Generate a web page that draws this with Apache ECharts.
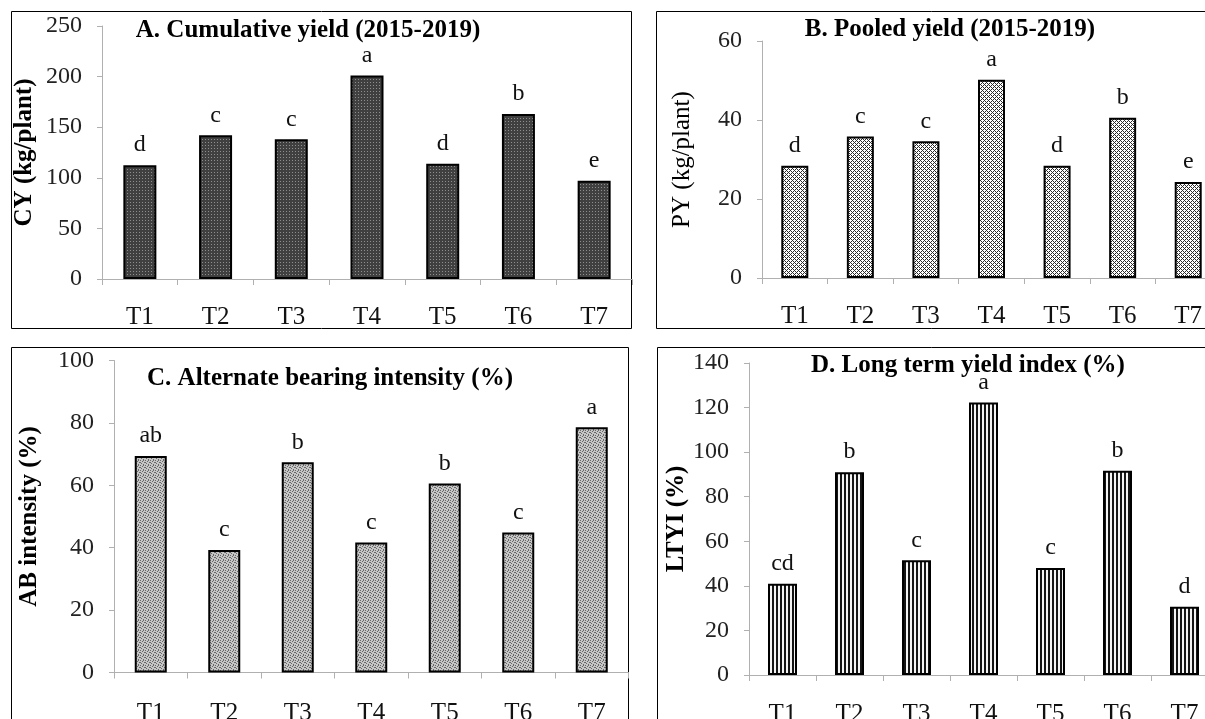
<!DOCTYPE html>
<html><head><meta charset="utf-8">
<script src="https://cdn.jsdelivr.net/npm/echarts@6/dist/echarts.min.js"></script>
<style>html,body{margin:0;padding:0;background:#fff;overflow:hidden}#c{width:1205px;height:719px}</style>
</head><body><div id="c"></div>
<script>
// ---- data ----
const categories = ['T1','T2','T3','T4','T5','T6','T7'];
const cumulativeYield = [112.5, 142, 138, 201, 114, 163, 97];
const cumulativeLetters = ['d','c','c','a','d','b','e'];
const pooledYield = [28.4, 35.8, 34.6, 50.2, 28.4, 40.6, 24.3];
const pooledLetters = ['d','c','c','a','d','b','e'];
const abIntensity = [69.4, 39.3, 67.4, 41.7, 60.6, 44.9, 78.6];
const abLetters = ['ab','c','b','c','b','c','a'];
const ltyi = [41, 91, 51.5, 122.3, 48, 91.7, 30.6];
const ltyiLetters = ['cd','b','c','a','c','b','d'];
const yTicksA = [0, 50, 100, 150, 200, 250];
const yTicksB = [0, 20, 40, 60];
const yTicksC = [0, 20, 40, 60, 80, 100];
const yTicksD = [0, 20, 40, 60, 80, 100, 120, 140];
const titles = ['A. Cumulative yield (2015-2019)', 'B. Pooled yield (2015-2019)',
                'C. Alternate bearing intensity (%)', 'D. Long term yield index (%)'];
const yNames = ['CY (kg/plant)', 'PY (kg/plant)', 'AB intensity (%)', 'LTYI (%)'];

// ---- fill patterns ----
function pat(w, h, draw) {
  const c = document.createElement('canvas'); c.width = w; c.height = h;
  const g = c.getContext('2d'); draw(g, w, h); return c;
}
const patA = pat(3, 3, (g) => { g.fillStyle = '#404040'; g.fillRect(0,0,3,3); g.fillStyle = '#8e8e8e'; g.fillRect(1,1,1,1); });
const patB = pat(4, 4, (g) => {
  g.fillStyle = '#ffffff'; g.fillRect(0,0,4,4); g.fillStyle = '#2a2a2a';
  for (let x = 0; x < 4; x++) for (let y = 0; y < 4; y++)
    if ((x + y) % 4 === 0 || (x - y + 4) % 4 === 0) g.fillRect(x, y, 1, 1);
});
const patC = pat(5, 5, (g) => {
  g.fillStyle = '#c6c6c6'; g.fillRect(0,0,5,5); g.fillStyle = '#686868';
  [[0,0],[2,1],[4,2],[1,3],[3,4],[0,2],[3,0]].forEach(p => g.fillRect(p[0], p[1], 1, 1));
});
const patD = pat(4, 1, (g) => { g.fillStyle = '#f4f4f4'; g.fillRect(0,0,4,1); g.fillStyle = '#151515'; g.fillRect(0,0,2,1); });

const serif = "'Liberation Serif', 'Times New Roman', serif";
const grids = [
  { left: 102, top: 26, width: 530, height: 253, outerBoundsMode: 'none', containLabel: false },
  { left: 762, top: 41, width: 459, height: 237, outerBoundsMode: 'none', containLabel: false },
  { left: 114, top: 360.5, width: 514.5, height: 312, outerBoundsMode: 'none', containLabel: false },
  { left: 749, top: 363, width: 469, height: 312, outerBoundsMode: 'none', containLabel: false }
];
const yTicks = [yTicksA, yTicksB, yTicksC, yTicksD];
const values = [cumulativeYield, pooledYield, abIntensity, ltyi];
const letters = [cumulativeLetters, pooledLetters, abLetters, ltyiLetters];
const fills = [patA, patB, patC, patD];
const barWidths = [33, 27, 32, 29];
const nameGaps = [65, 67, 72, 59];
const nameWeights = ['bold', 'normal', 'bold', 'bold'];
const xLabelMargins = [26, 26, 28, 27];
const titlePos = [[308, 18], [950, 17], [330, 366], [968, 353]];

const option = {
  backgroundColor: '#fff',
  animation: false,
  title: titles.map((t, i) => ({
    text: t, left: titlePos[i][0], top: titlePos[i][1], textAlign: 'center', padding: 0,
    textStyle: { fontFamily: serif, fontSize: 25, fontWeight: 'bold', color: '#000' }
  })),
  grid: grids,
  xAxis: grids.map((g, i) => ({
    type: 'category', gridIndex: i, data: categories,
    axisLine: { lineStyle: { color: '#b0b0b0', width: 1 } },
    axisTick: { show: true, length: 6, lineStyle: { color: '#b0b0b0' } },
    axisLabel: { fontFamily: serif, fontSize: 25, color: '#111', margin: xLabelMargins[i] }
  })),
  yAxis: grids.map((g, i) => {
    const t = yTicks[i];
    return {
      type: 'value', gridIndex: i, min: t[0], max: t[t.length - 1], interval: t[1] - t[0],
      name: yNames[i], nameLocation: 'middle', nameGap: nameGaps[i], nameRotate: 90,
      nameTextStyle: { fontFamily: serif, fontSize: 25, fontWeight: nameWeights[i], color: '#000' },
      axisLine: { show: true, lineStyle: { color: '#b0b0b0', width: 1 } },
      axisTick: { show: true, length: 5, lineStyle: { color: '#b0b0b0' } },
      splitLine: { show: false },
      axisLabel: { fontFamily: serif, fontSize: 24, color: '#222', margin: 20 }
    };
  }),
  series: values.map((v, i) => ({
    type: 'bar', xAxisIndex: i, yAxisIndex: i, data: v, barWidth: barWidths[i],
    itemStyle: { color: { image: fills[i], repeat: 'repeat' }, borderColor: '#000', borderWidth: 2 },
    label: {
      show: true, position: 'top', distance: 8,
      fontFamily: serif, fontSize: 24, color: '#111',
      formatter: (p) => letters[i][p.dataIndex]
    }
  })),
  graphic: [
    { type: 'rect', shape: { x: 11.5, y: 11.5, width: 620, height: 317 }, style: { fill: 'none', stroke: '#000', lineWidth: 1 } },
    { type: 'rect', shape: { x: 656.5, y: 11.5, width: 560, height: 317 }, style: { fill: 'none', stroke: '#000', lineWidth: 1 } },
    { type: 'rect', shape: { x: 11.5, y: 347.5, width: 617, height: 380 }, style: { fill: 'none', stroke: '#000', lineWidth: 1 } },
    { type: 'rect', shape: { x: 657.5, y: 347.5, width: 560, height: 380 }, style: { fill: 'none', stroke: '#000', lineWidth: 1 } }
  ]
};
const chart = echarts.init(document.getElementById('c'), null, { renderer: 'canvas' });
chart.setOption(option);
</script></body></html>
